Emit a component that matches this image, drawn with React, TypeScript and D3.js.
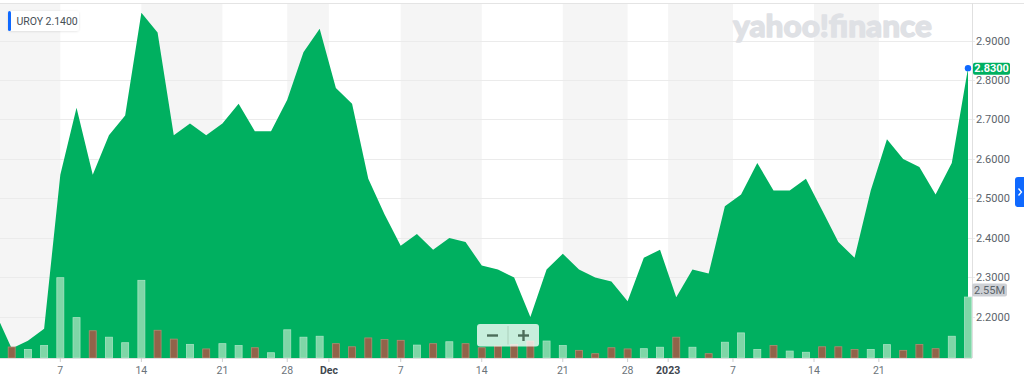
import React, { useEffect } from 'react';
import * as d3 from 'd3';

const W = 1024;
const H = 375;

// trading days (index 0 = Nov 1 2022, partially off-chart)
const dates = [
  '2022-11-01', '2022-11-02', '2022-11-03', '2022-11-04', '2022-11-07', '2022-11-08', '2022-11-09', '2022-11-10',
  '2022-11-11', '2022-11-14', '2022-11-15', '2022-11-16', '2022-11-17', '2022-11-18', '2022-11-21', '2022-11-22',
  '2022-11-23', '2022-11-25', '2022-11-28', '2022-11-29', '2022-11-30', '2022-12-01', '2022-12-02', '2022-12-05',
  '2022-12-06', '2022-12-07', '2022-12-08', '2022-12-09', '2022-12-12', '2022-12-13', '2022-12-14', '2022-12-15',
  '2022-12-16', '2022-12-19', '2022-12-20', '2022-12-21', '2022-12-22', '2022-12-23', '2022-12-27', '2022-12-28',
  '2022-12-29', '2022-12-30', '2023-01-03', '2023-01-04', '2023-01-05', '2023-01-06', '2023-01-09', '2023-01-10',
  '2023-01-11', '2023-01-12', '2023-01-13', '2023-01-17', '2023-01-18', '2023-01-19', '2023-01-20', '2023-01-23',
  '2023-01-24', '2023-01-25', '2023-01-26', '2023-01-27', '2023-01-30',
];

const closes = [
  2.21, 2.12, 2.14, 2.17, 2.56, 2.73, 2.56, 2.66, 2.71, 2.97, 2.92, 2.66, 2.69, 2.66, 2.69, 2.74,
  2.67, 2.67, 2.75, 2.87, 2.93, 2.78, 2.74, 2.55, 2.46, 2.38, 2.41, 2.37, 2.40, 2.39, 2.33, 2.32,
  2.30, 2.20, 2.32, 2.36, 2.32, 2.30, 2.29, 2.24, 2.35, 2.37, 2.25, 2.32, 2.31, 2.48, 2.51, 2.59,
  2.52, 2.52, 2.55, 2.47, 2.39, 2.35, 2.52, 2.65, 2.60, 2.58, 2.51, 2.59, 2.83,
];

// volume in millions of shares
const volumes = [
  0.5, 0.46, 0.36, 0.52, 3.36, 1.69, 1.14, 0.87, 0.64, 3.25, 1.16, 0.79, 0.57, 0.38, 0.60, 0.52,
  0.43, 0.22, 1.18, 0.87, 0.91, 0.60, 0.47, 0.84, 0.77, 0.74, 0.54, 0.60, 0.68, 0.60, 0.43, 0.50,
  0.57, 0.71, 0.71, 0.52, 0.32, 0.18, 0.43, 0.38, 0.39, 0.45, 0.87, 0.45, 0.18, 0.66, 1.05, 0.36,
  0.52, 0.29, 0.24, 0.47, 0.47, 0.36, 0.36, 0.56, 0.32, 0.57, 0.39, 0.91, 2.55,
];

const priceTicks = [2.2, 2.3, 2.4, 2.5, 2.6, 2.7, 2.8, 2.9];

// x-axis ticks at positions expressed in trading-day index units
const xTickLabels = ['7', '14', '21', '28', 'Dec', '7', '14', '21', '28', '2023', '7', '14', '21'];
const xTickIndex = [4, 9, 14, 18, 20.57, 25, 30, 35, 39, 41.5, 45.5, 50.5, 54.5];
const xTickMajor = [false, false, false, false, true, false, false, false, false, true, false, false, false];

const symbol = 'UROY';
const prevClose = 2.14;

const PL = 0;
const PR = 972;
const PT = 3;
const PB = 358;

const FONT = 'Roboto, "Helvetica Neue", Arial, sans-serif';

export default function App() {
  useEffect(() => {
    document.body.style.margin = '0';
  }, []);

  const n = closes.length;
  const x = d3.scaleLinear().domain([1, n - 1]).range([11.7, 968]);
  const y = d3.scaleLinear().domain([2.096, 2.995]).range([PB, PT]);
  const yv = d3.scaleLinear().domain([0, 3.36]).range([PB, PB - 80.3]);

  const area = d3
    .area<number>()
    .x((_, i) => x(i))
    .y0(PB)
    .y1((d) => y(d));
  const areaPath = area(closes) || '';

  const tickX = xTickIndex.map((t) => x(t));
  const bounds = [PL, ...tickX, PR];
  const bands = bounds.slice(0, -1).map((b, i) => ({ x0: b, x1: bounds[i + 1], gray: i % 2 === 0 }));

  const last = n - 1;
  const lastX = x(last);
  const lastY = y(closes[last]);
  const fmt = d3.format('.4f');
  const volTop = yv(volumes[last]);

  const barW = 7;

  return (
    <div style={{ position: 'absolute', left: 0, top: 0 }}>
      <svg width={W} height={H} style={{ display: 'block', fontFamily: FONT }}>
        <defs>
          <clipPath id="plot">
            <rect x={PL} y={PT} width={PR - PL} height={PB - PT} />
          </clipPath>
          <filter id="sh" x="-20%" y="-40%" width="140%" height="180%">
            <feDropShadow dx="0" dy="0.5" stdDeviation="1" floodColor="#000" floodOpacity="0.12" />
          </filter>
        </defs>
        <rect x={0} y={0} width={W} height={H} fill="#fff" />
        {bands.map((b, i) =>
          b.gray ? <rect key={i} x={b.x0} y={PT} width={b.x1 - b.x0} height={PB - PT} fill="#f5f5f5" /> : null
        )}
        <line x1={0} x2={W} y1={PT + 0.5} y2={PT + 0.5} stroke="#e4e4e4" />
        {priceTicks.map((t) => (
          <line key={t} x1={PL} x2={PR + 3} y1={Math.round(y(t)) + 0.5} y2={Math.round(y(t)) + 0.5} stroke="#ebebeb" />
        ))}
        <text
          x={733}
          y={37}
          fontFamily="Lato, 'Open Sans', sans-serif"
          fontWeight={900}
          fontSize={31}
          fill="#dfe1e5"
          stroke="#dfe1e5"
          strokeWidth={1.3}
          strokeLinejoin="round"
          textLength={199}
          lengthAdjust="spacingAndGlyphs"
        >
          yahoo!finance
        </text>
        <g clipPath="url(#plot)">
          <path d={areaPath} fill="#00b060" />
          {volumes.map((v, i) => {
            const up = i === 0 || closes[i] >= closes[i - 1];
            const top = yv(v);
            return (
              <rect
                key={i}
                x={x(i) - barW / 2}
                y={top}
                width={barW}
                height={PB - top}
                fill={up ? '#7fd6a7' : '#91634a'}
                stroke={up ? '#a6e3c2' : '#b48a72'}
                strokeWidth={0.8}
              />
            );
          })}
        </g>
        <line x1={PR + 0.5} x2={PR + 0.5} y1={PT} y2={PB} stroke="#e0e0e0" />
        <line x1={PL} x2={PR} y1={PB + 0.5} y2={PB + 0.5} stroke="#e0e0e0" />
        {priceTicks.map((t) => (
          <text key={t} x={976} y={y(t) + 4} fontSize={11} fill="#5b636a">
            {fmt(t)}
          </text>
        ))}
        {xTickLabels.map((l, i) => (
          <g key={i}>
            <line x1={tickX[i]} x2={tickX[i]} y1={PB} y2={PB + 4} stroke="#cfcfcf" />
            <text
              x={tickX[i]}
              y={373.5}
              fontSize={10.5}
              textAnchor="middle"
              fill={xTickMajor[i] ? '#3f474f' : '#6b737a'}
              fontWeight={xTickMajor[i] ? 700 : 400}
            >
              {l}
            </text>
          </g>
        ))}
        {/* last price marker */}
        <rect x={PR + 1} y={lastY - 5.5} width={37} height={12} rx={2} fill="#00b060" />
        <text x={PR + 19.5} y={lastY + 4} fontSize={11} fontWeight={700} fill="#fff" textAnchor="middle">
          {fmt(closes[last])}
        </text>
        <circle cx={lastX} cy={lastY} r={3.2} fill="#0f69ff" />
        {/* volume label */}
        <rect x={PR} y={volTop - 13.5} width={35} height={13} rx={2} fill="#cdd0d5" />
        <text x={PR + 17.5} y={volTop - 3} fontSize={11} fill="#5b636a" textAnchor="middle">
          {`${volumes[last].toFixed(2)}M`}
        </text>
        {/* zoom controls */}
        <g>
          <rect x={477} y={324} width={62} height={22.5} rx={3} fill="rgba(255,255,255,0.78)" />
          <line x1={508} x2={508} y1={326} y2={344.5} stroke="rgba(120,150,130,0.35)" />
          <line x1={487} x2={498} y1={335.5} y2={335.5} stroke="#4c6d5a" strokeWidth={2.4} />
          <line x1={518} x2={529} y1={335.5} y2={335.5} stroke="#4c6d5a" strokeWidth={2.4} />
          <line x1={523.5} x2={523.5} y1={330} y2={341} stroke="#4c6d5a" strokeWidth={2.4} />
        </g>
        {/* legend */}
        <g filter="url(#sh)">
          <rect x={8} y={11} width={71} height={20} rx={3} fill="#fff" />
        </g>
        <rect x={8} y={11} width={3} height={20} rx={1.5} fill="#0f69ff" />
        <text x={16.5} y={24.5} fontSize={10.5} fill="#464e56">
          {symbol}
        </text>
        <text x={45.5} y={24.5} fontSize={10.5} fill="#464e56">
          {prevClose.toFixed(4)}
        </text>
        {/* right side tab */}
        <rect x={1015} y={177} width={14} height={30} rx={3} fill="#0f69ff" />
        <path d="M1018.5,188.5 L1021.5,192 L1018.5,195.5" fill="none" stroke="#fff" strokeWidth={1.3} />
      </svg>
    </div>
  );
}
